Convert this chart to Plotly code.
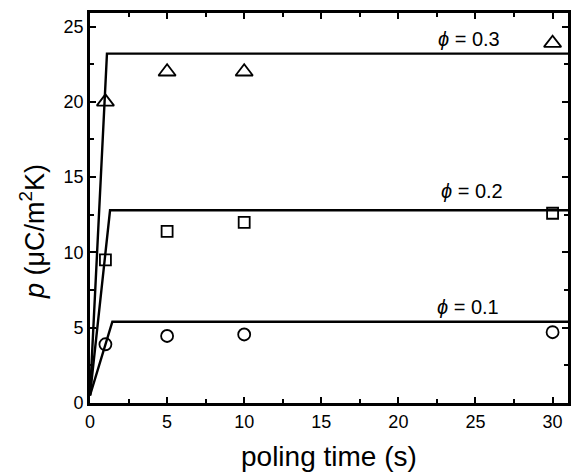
import plotly.graph_objects as go

# data
t_meas = [1, 5, 10, 30]
p_phi03 = [20.0, 22.0, 22.0, 23.9]
p_phi02 = [9.5, 11.4, 12.0, 12.6]
p_phi01 = [3.9, 4.45, 4.55, 4.7]

t_fit03 = [0, 1.1, 31]
fit_phi03 = [0.5, 23.2, 23.2]
t_fit02 = [0, 1.3, 31]
fit_phi02 = [0.5, 12.8, 12.8]
t_fit01 = [0, 1.45, 31]
fit_phi01 = [0.5, 5.4, 5.4]

labels = ["\u03d5 = 0.3", "\u03d5 = 0.2", "\u03d5 = 0.1"]
label_x = [24.6, 24.8, 24.5]
label_y = [24.2, 14.1, 6.4]

x_title = "poling time (s)"
y_title = "<i>p</i> (\u03bcC/m<sup>2</sup>K)"

FONT = "Liberation Sans, Arial, Helvetica"

fig = go.Figure()
line = dict(color="black", width=2.4)
for tx, fy in [(t_fit03, fit_phi03), (t_fit02, fit_phi02), (t_fit01, fit_phi01)]:
    fig.add_trace(go.Scatter(x=tx, y=fy, mode="lines", line=line, showlegend=False, hoverinfo="skip"))

fig.add_trace(go.Scatter(x=t_meas, y=p_phi03, mode="markers",
                         marker=dict(symbol="triangle-up-open", size=15, color="black", line=dict(width=1.8)), showlegend=False))
fig.add_trace(go.Scatter(x=t_meas, y=p_phi02, mode="markers",
                         marker=dict(symbol="square-open", size=11, color="black", line=dict(width=1.8)), showlegend=False))
fig.add_trace(go.Scatter(x=t_meas, y=p_phi01, mode="markers",
                         marker=dict(symbol="circle-open", size=12, color="black", line=dict(width=1.8)), showlegend=False))

for txt, x, y in zip(labels, label_x, label_y):
    fig.add_annotation(x=x, y=y, text=txt.replace("\u03d5", "<i>\u03d5</i>"), showarrow=False,
                       font=dict(family=FONT, size=20, color="black"))

# axis titles as paper annotations for precise placement
fig.add_annotation(xref="paper", yref="paper", x=0.5, y=-0.138, yanchor="middle",
                   text=x_title, showarrow=False, font=dict(family=FONT, size=28, color="black"))
fig.add_annotation(xref="paper", yref="paper", x=-0.12, y=0.44, xanchor="center", yanchor="middle",
                   textangle=-90, text=y_title, showarrow=False, font=dict(family=FONT, size=27, color="black"))

axis_common = dict(showline=True, linecolor="black", linewidth=2.8, mirror="ticks",
                   ticks="inside", ticklen=6, tickwidth=2, tickcolor="black",
                   showgrid=False, zeroline=False, automargin=False,
                   tickfont=dict(family=FONT, size=18, color="black"),
                   minor=dict(ticks="inside", ticklen=4, tickwidth=1.8, tickcolor="black"))

fig.update_xaxes(range=[0, 31], tickvals=[0, 5, 10, 15, 20, 25, 30], minor_dtick=2.5, **axis_common)
fig.update_yaxes(range=[0, 25.9], tickvals=[0, 5, 10, 15, 20, 25], minor_dtick=2.5, **axis_common)

fig.update_layout(width=571, height=472, margin=dict(l=90, r=3, t=13, b=69),
                  plot_bgcolor="white", paper_bgcolor="white")
fig.write_html("out.html", config={"displayModeBar": False},
               post_script="document.body.style.margin='0';")
